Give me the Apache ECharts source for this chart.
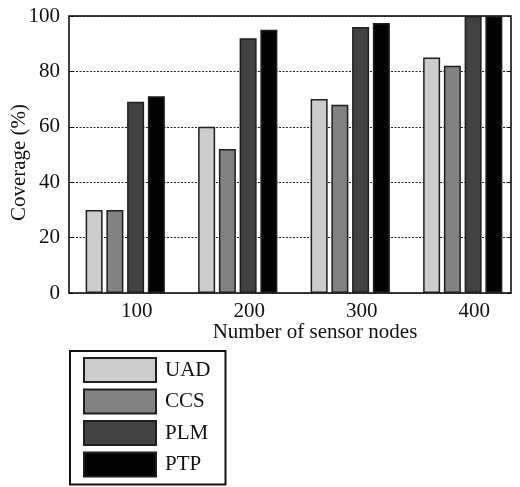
<!DOCTYPE html>
<html>
<head>
<meta charset="utf-8">
<script src="https://cdn.jsdelivr.net/npm/echarts@6/dist/echarts.min.js"></script>
<style>html,body{margin:0;padding:0;background:#fff;}#c{width:520px;height:487px;}</style>
</head>
<body>
<div id="c"></div>
<script>
var categories = ['100', '200', '300', '400'];
var seriesNames = ['UAD', 'CCS', 'PLM', 'PTP'];
var UAD = [30, 60, 70, 85];
var CCS = [30, 52, 68, 82];
var PLM = [69, 92, 96, 100];
var PTP = [71, 95, 97.5, 100];
var yTicks = [0, 20, 40, 60, 80, 100];
var colors = ['#cccccc', '#828282', '#424242', '#030303'];

var font = 'Liberation Serif';
var values = [UAD, CCS, PLM, PTP];
var chart = echarts.init(document.getElementById('c'), null, {renderer: 'canvas'});
var series = seriesNames.map(function (n, i) {
  return {
    name: n, type: 'bar', xAxisIndex: 1, yAxisIndex: 1,
    data: values[i], barWidth: 17, barGap: '22%',
    itemStyle: {color: colors[i], borderColor: '#1e1e1e', borderWidth: 1.5},
    emphasis: {disabled: true}
  };
});
chart.setOption({
  animation: false,
  color: colors,
  grid: [
    {left: 69, top: 16, width: 442, height: 277, show: true, borderColor: '#000', borderWidth: 1.5, backgroundColor: 'transparent', outerBoundsMode: 'none', containLabel: false},
    {left: 69, top: 16, width: 450, height: 277, outerBoundsMode: 'none', containLabel: false}
  ],
  xAxis: [
    {type: 'value', gridIndex: 0, min: 0, max: 1, show: false},
    {type: 'category', gridIndex: 1, data: categories,
     axisLine: {show: false}, axisTick: {show: false},
     axisLabel: {margin: 8, fontFamily: font, fontSize: 21, color: '#111', padding: [0, 0, 0, 23]},
     name: 'Number of sensor nodes', nameLocation: 'middle', nameGap: 29, nameMoveOverlap: false,
     nameTextStyle: {fontFamily: font, fontSize: 21, color: '#111', padding: [0, 0, 0, 42]}}
  ],
  yAxis: [
    {type: 'value', gridIndex: 0, min: yTicks[0], max: yTicks[yTicks.length - 1], interval: yTicks[1] - yTicks[0],
     axisLine: {show: false},
     axisTick: {show: true, inside: true, length: 4, lineStyle: {color: '#000'}},
     splitLine: {show: true, lineStyle: {type: [2, 1.5], color: '#222', width: 1}},
     axisLabel: {margin: 9, fontFamily: font, fontSize: 21, color: '#111'},
     name: 'Coverage (%)', nameLocation: 'middle', nameGap: 39, nameMoveOverlap: false,
     nameTextStyle: {fontFamily: font, fontSize: 21, color: '#111', padding: [0, 16, 0, 0]}},
    {type: 'value', gridIndex: 1, min: 0, max: 100, show: false},
    {type: 'value', gridIndex: 0, position: 'right', min: 0, max: 100, interval: 20,
     axisLine: {show: false}, axisLabel: {show: false}, splitLine: {show: false},
     axisTick: {show: true, inside: true, length: 4, lineStyle: {color: '#000'}}}
  ],
  legend: {
    show: true, orient: 'vertical', left: 70, top: 351, height: 200,
    data: seriesNames, itemWidth: 72, itemHeight: 24, itemGap: 5.5,
    padding: [6, 15, 7, 13], borderColor: '#111', borderWidth: 2,
    icon: 'rect',
    textStyle: {fontFamily: font, fontSize: 21, lineHeight: 24, color: '#111', padding: [0, 0, 0, 4]}
  },
  series: series
});
</script>
</body>
</html>
